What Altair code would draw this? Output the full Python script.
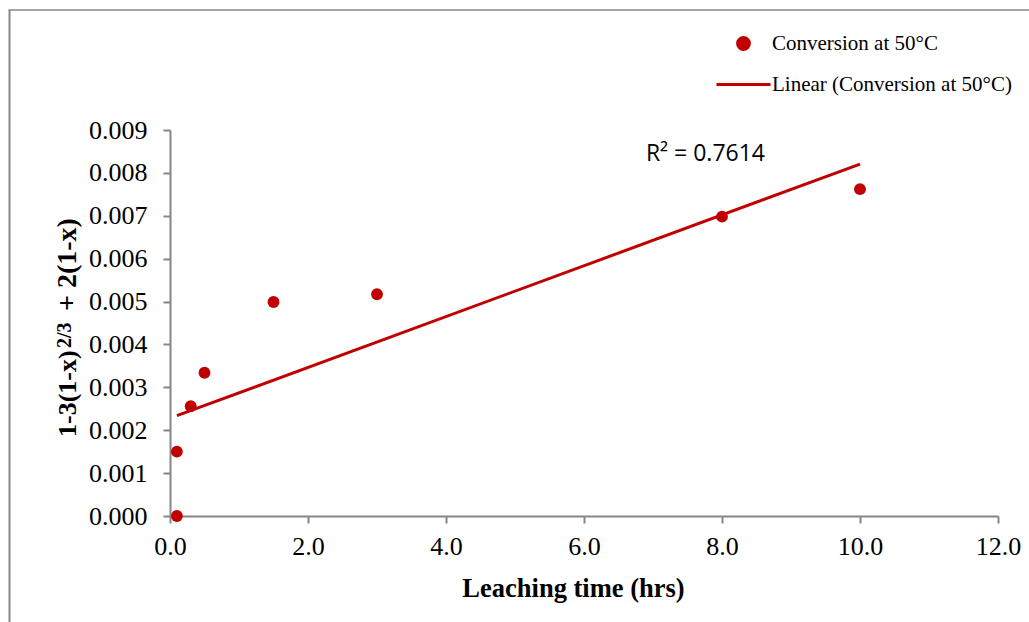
import altair as alt
import pandas as pd

# ---- data ----
time_hrs = [0.1, 0.1, 0.3, 0.5, 1.5, 3.0, 8.0, 10.0]
conversion = [0.0000, 0.0015, 0.00256, 0.00334, 0.00499, 0.00517, 0.00698, 0.00762]
series_names = ["Conversion at 50°C", "Linear (Conversion at 50°C)"]
x_ticks = [0, 2, 4, 6, 8, 10, 12]
y_ticks = [0.000, 0.001, 0.002, 0.003, 0.004, 0.005, 0.006, 0.007, 0.008, 0.009]
r2_label = ["R² = 0.7614"]
r2_pos_x = [7.76]
r2_pos_y = [0.00843]
x_title = "Leaching time (hrs)"
y_title_parts = ["1-3(1-x)", "2/3", "+ 2(1-x)"]

RED = "#C00000"
AXIS_GREY = "#868686"
SERIF = "Liberation Serif"

df = pd.DataFrame({"t": time_hrs, "y": conversion, "series": series_names[0]})
r2_df = pd.DataFrame({"t": r2_pos_x, "y": r2_pos_y, "label": r2_label})
one = pd.DataFrame({"a": [0]})

color_scale = alt.Scale(domain=series_names, range=[RED, RED])
shape_scale = alt.Scale(domain=series_names, range=["circle", "stroke"])
size_scale = alt.Scale(domain=series_names, range=[140, 2916])

legend = alt.Legend(
    title=None, orient="none", legendX=545, legendY=-97,
    labelFont=SERIF, labelFontSize=21, labelColor="black", labelOffset=0,
    labelLimit=400, symbolStrokeWidth=3, symbolStrokeColor=RED, padding=0,
    rowPadding=-10,
)

x_enc = alt.X("t:Q", scale=alt.Scale(domain=[0, 12], nice=False),
              axis=alt.Axis(values=x_ticks, format=".1f", title=x_title,
                            labelFlush=False, labelPadding=10, titlePadding=16,
                            titleX=403))
y_enc = alt.Y("y:Q", scale=alt.Scale(domain=[0, 0.009], nice=False),
              axis=alt.Axis(values=y_ticks, format=".3f", title="", labelPadding=16))

points = alt.Chart(df).mark_point(filled=True, opacity=1).encode(
    x=x_enc, y=y_enc,
    color=alt.Color("series:N", scale=color_scale, legend=legend),
    shape=alt.Shape("series:N", scale=shape_scale, legend=legend),
    size=alt.Size("series:N", scale=size_scale, legend=legend),
)

trend = alt.Chart(df).transform_regression("t", "y").transform_calculate(
    series="'" + series_names[1] + "'"
).mark_line(strokeWidth=3).encode(
    x="t:Q", y="y:Q",
    color=alt.Color("series:N", scale=color_scale, legend=legend),
)

r2_text = alt.Chart(r2_df).mark_text(
    font="Open Sans", fontSize=23, color="black", align="center", baseline="middle"
).encode(x="t:Q", y="y:Q", text="label:N")

# rotated y-axis title with a superscript
yt1 = alt.Chart(one).mark_text(
    text=y_title_parts[0], angle=270, align="left", baseline="alphabetic",
    font=SERIF, fontSize=26, fontWeight="bold", color="black"
).encode(x=alt.value(-94), y=alt.value(307))
yt2 = alt.Chart(one).mark_text(
    text=y_title_parts[1], angle=270, align="left", baseline="alphabetic",
    font=SERIF, fontSize=20, fontWeight="bold", color="black"
).encode(x=alt.value(-99), y=alt.value(218))
yt3 = alt.Chart(one).mark_text(
    text=y_title_parts[2], angle=270, align="left", baseline="alphabetic",
    font=SERIF, fontSize=28, fontWeight="bold", color="black"
).encode(x=alt.value(-94), y=alt.value(181))

# outer chart-area border
border_left = alt.Chart(one).mark_rule(color="#888888", strokeWidth=2).encode(
    x=alt.value(-160.5), y=alt.value(-120), y2=alt.value(500))
border_top = alt.Chart(one).mark_rule(color="#888888", strokeWidth=1.5).encode(
    x=alt.value(-161.5), x2=alt.value(870), y=alt.value(-120))

chart = alt.layer(
    border_left, border_top, trend, points, r2_text, yt1, yt2, yt3
).properties(
    width=828, height=386,
    autosize=alt.AutoSizeParams(type="none"),
    padding={"left": 170, "top": 130, "right": 31, "bottom": 106},
).configure_view(stroke=None).configure_axis(
    grid=False, domainColor=AXIS_GREY, domainWidth=2, tickColor=AXIS_GREY,
    tickWidth=2, tickSize=7, labelFont=SERIF, labelFontSize=26, labelColor="black",
    titleFont=SERIF, titleFontSize=26.5, titleFontWeight="bold", titleColor="black",
)

chart.save("out.html", embed_options={"renderer": "svg", "actions": False})
